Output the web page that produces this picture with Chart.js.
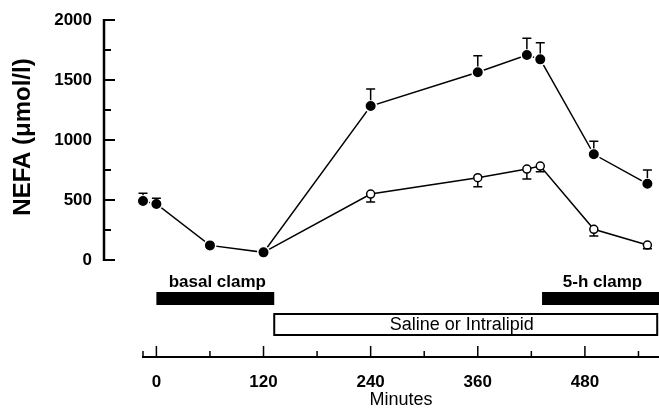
<!DOCTYPE html>
<html>
<head>
<meta charset="utf-8">
<script src="https://cdn.jsdelivr.net/npm/chart.js@4.4.0/dist/chart.umd.min.js"></script>
<style>
  html, body { margin: 0; padding: 0; background: #fff; }
</style>
</head>
<body>
<canvas id="nefaChart" width="659" height="411"></canvas>
<script>
// Intralipid group (filled circles) - minutes, NEFA (umol/l), SEM (drawn upward)
const filledMinutes = [-15, 0, 60, 120, 240, 360, 415, 430, 490, 550];
const filledNefa    = [492, 467, 122, 64, 1283, 1564, 1708, 1672, 881, 635];
const filledSem     = [64, 47, 0, 0, 142, 139, 139, 139, 108, 115];

// Saline group (open circles) - SEM drawn downward
const openMinutes = [120, 240, 360, 415, 430, 490, 550];
const openNefa    = [64, 550, 686, 758, 783, 256, 125];
const openSem     = [0, 67, 75, 83, 47, 56, 30];

// axis ticks
const yTickLabels = [0, 500, 1000, 1500, 2000];
const yMinorTicks = [250, 750, 1250, 1750];
const xTickLabels = [0, 120, 240, 360, 480];
const xMinorTicks = [-15, 60, 180, 300, 420, 540];

// protocol periods (minutes)
const basalClamp = [0, 132];
const fiveHClamp = [432, 563];
const infusion   = [132, 561];

const FONT = '"Liberation Sans", Arial, sans-serif';

const nefaArt = {
  id: 'nefaArt',
  beforeDatasetsDraw(chart) {
    const { ctx, chartArea, scales: { x, y } } = chart;
    const axisX = chartArea.left - 39;
    const bottom = chartArea.bottom;
    ctx.save();
    ctx.strokeStyle = '#000';
    ctx.fillStyle = '#000';

    // y axis line (0..2000 only) with inward ticks
    ctx.lineWidth = 2.5;
    ctx.beginPath();
    ctx.moveTo(axisX, y.getPixelForValue(0) + 1);
    ctx.lineTo(axisX, y.getPixelForValue(2000) - 1);
    ctx.stroke();
    ctx.lineWidth = 2;
    yTickLabels.forEach(v => {
      const py = y.getPixelForValue(v);
      ctx.beginPath(); ctx.moveTo(axisX, py); ctx.lineTo(axisX + 11, py); ctx.stroke();
    });
    yMinorTicks.forEach(v => {
      const py = y.getPixelForValue(v);
      ctx.beginPath(); ctx.moveTo(axisX, py); ctx.lineTo(axisX + 7, py); ctx.stroke();
    });

    // x axis ticks pointing up
    ctx.lineWidth = 1.5;
    xTickLabels.forEach(v => {
      const px = x.getPixelForValue(v);
      ctx.beginPath(); ctx.moveTo(px, bottom); ctx.lineTo(px, bottom - 11); ctx.stroke();
    });
    xMinorTicks.forEach(v => {
      const px = x.getPixelForValue(v);
      ctx.beginPath(); ctx.moveTo(px, bottom); ctx.lineTo(px, bottom - 6); ctx.stroke();
    });

    // y title
    ctx.save();
    ctx.translate(23, y.getPixelForValue(1000) - 3);
    ctx.rotate(-Math.PI / 2);
    ctx.textAlign = 'center';
    ctx.textBaseline = 'middle';
    ctx.font = 'bold 24px ' + FONT;
    ctx.fillText('NEFA (μmol/l)', 0, 0);
    ctx.restore();

    // clamp bars
    [[basalClamp, 'basal clamp'], [fiveHClamp, '5-h clamp']].forEach(([p, label]) => {
      const x0 = x.getPixelForValue(p[0]);
      const x1 = x.getPixelForValue(p[1]);
      ctx.fillRect(x0, bottom - 65, x1 - x0, 13);
      ctx.font = 'bold 17px ' + FONT;
      ctx.textAlign = 'center';
      ctx.textBaseline = 'alphabetic';
      ctx.fillText(label, (x0 + Math.min(x1, chartArea.right)) / 2 + 2, bottom - 70);
    });

    // infusion box
    const b0 = x.getPixelForValue(infusion[0]);
    const b1 = x.getPixelForValue(infusion[1]);
    ctx.lineWidth = 2;
    ctx.fillStyle = '#fff';
    ctx.fillRect(b0, bottom - 43, b1 - b0, 21);
    ctx.strokeRect(b0, bottom - 43, b1 - b0, 21);
    ctx.fillStyle = '#000';
    ctx.font = '18px ' + FONT;
    ctx.textAlign = 'center';
    ctx.textBaseline = 'middle';
    ctx.fillText('Saline or Intralipid', (b0 + b1) / 2 - 4, bottom - 31.5);
    ctx.restore();
  },
  afterDatasetsDraw(chart) {
    const { ctx, scales: { y } } = chart;
    const bars = [
      { idx: 0, vals: filledNefa, sem: filledSem, dir: 1 },
      { idx: 1, vals: openNefa, sem: openSem, dir: -1 }
    ];
    ctx.save();
    ctx.strokeStyle = '#000';
    ctx.lineWidth = 1.5;
    bars.forEach(b => {
      const meta = chart.getDatasetMeta(b.idx);
      meta.data.forEach((pt, i) => {
        if (!b.sem[i]) return;
        const r = pt.options.radius;
        const end = y.getPixelForValue(b.vals[i] + b.dir * b.sem[i]);
        const start = pt.y - b.dir * r;
        ctx.beginPath();
        ctx.moveTo(pt.x, start);
        ctx.lineTo(pt.x, end);
        ctx.moveTo(pt.x - 4.5, end);
        ctx.lineTo(pt.x + 4.5, end);
        ctx.stroke();
      });
    });
    ctx.restore();
  }
};

new Chart(document.getElementById('nefaChart'), {
  type: 'line',
  data: {
    datasets: [
      {
        label: 'Intralipid',
        data: filledMinutes.map((m, i) => ({ x: m, y: filledNefa[i] })),
        borderColor: '#000',
        borderWidth: 1.5,
        pointRadius: 5.75,
        pointBackgroundColor: '#000',
        pointBorderColor: '#fff',
        pointBorderWidth: 1.5,
        tension: 0,
        clip: false
      },
      {
        label: 'Saline',
        data: openMinutes.map((m, i) => ({ x: m, y: openNefa[i] })),
        borderColor: '#000',
        borderWidth: 1.5,
        pointRadius: 4,
        pointBackgroundColor: '#fff',
        pointBorderColor: '#000',
        pointBorderWidth: 1.5,
        tension: 0,
        clip: false
      }
    ]
  },
  options: {
    responsive: false,
    animation: false,
    layout: { autoPadding: false, padding: { top: 20, right: 0, bottom: 0, left: 0 } },
    plugins: { legend: { display: false }, tooltip: { enabled: false } },
    scales: {
      x: {
        type: 'linear',
        min: -15,
        max: 563,
        afterBuildTicks: s => { s.ticks = xTickLabels.map(v => ({ value: v })); },
        afterFit: s => { s.height = 54; s.paddingLeft = 0; s.paddingRight = 0; },
        grid: { display: false, drawTicks: false },
        border: { display: true, color: '#000', width: 2 },
        ticks: {
          padding: 15, maxRotation: 0, autoSkip: false, color: '#000',
          font: { family: FONT, size: 17, weight: 'bold' },
          callback: v => String(v)
        },
        title: {
          display: true, text: 'Minutes', color: '#000', padding: 0,
          font: { family: FONT, size: 18 }
        }
      },
      y: {
        type: 'linear',
        min: -808,
        max: 2000,
        afterBuildTicks: s => { s.ticks = yTickLabels.map(v => ({ value: v })); },
        afterFit: s => { s.width = 143; s.paddingTop = 0; s.paddingBottom = 0; },
        grid: { display: false, drawTicks: false },
        border: { display: false },
        ticks: {
          padding: 51, color: '#000',
          font: { family: FONT, size: 17, weight: 'bold' },
          callback: v => String(v)
        }
      }
    }
  },
  plugins: [nefaArt]
});
</script>
</body>
</html>
